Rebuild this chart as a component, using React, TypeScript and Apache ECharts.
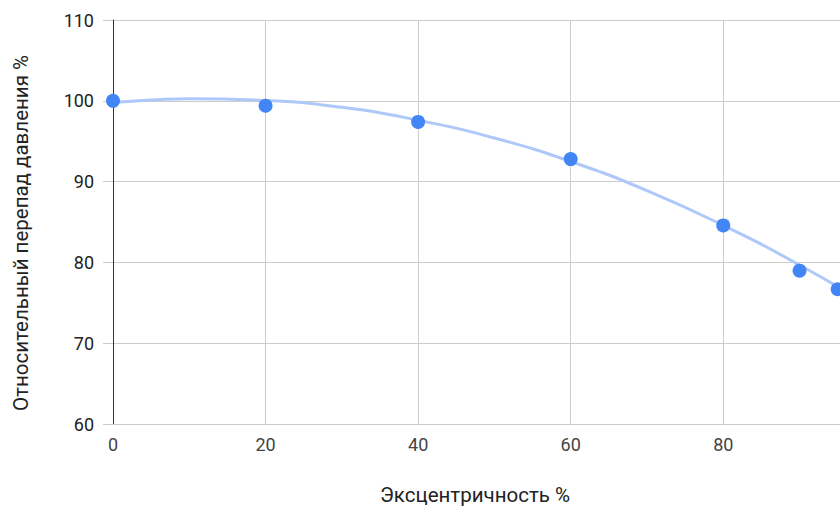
import React, { useEffect, useRef } from "react";
import * as echarts from "echarts";

const xValues = [0, 20, 40, 60, 80, 90, 95];
const yValues = [100, 99.4, 97.4, 92.8, 84.6, 79.0, 76.7];
const trendX = [-1.3, 0, 10, 20, 30, 40, 50, 60, 70, 80, 90, 100];
const trendY = [99.7, 99.8, 100.25, 100.05, 99.2, 97.6, 95.4, 92.5, 88.9, 84.6, 79.7, 74.2];
const xTitle = "Эксцентричность %";
const yTitle = "Относительный перепад давления %";

export default function App() {
  const ref = useRef<HTMLDivElement>(null);
  useEffect(() => {
    if (!ref.current) return;
    const chart = echarts.init(ref.current, null, { renderer: "svg" });
    const font = "Roboto, Arial, sans-serif";
    chart.setOption({
      animation: false,
      backgroundColor: "#ffffff",
      grid: { left: 113, top: 20, right: -35.8, bottom: 81.7, outerBoundsMode: "none", containLabel: false },
      xAxis: {
        type: "value",
        min: 0,
        max: 100,
        interval: 20,
        axisLine: { show: true, lineStyle: { color: "#cccccc", width: 1 } },
        axisTick: { show: false },
        splitLine: { show: true, lineStyle: { color: "#cccccc", width: 1 } },
        axisLabel: { margin: 11, color: "#444444", fontSize: 18, fontFamily: font, showMaxLabel: false },
      },
      yAxis: {
        type: "value",
        min: 60,
        max: 110,
        interval: 10,
        axisLine: { show: true, onZero: false, lineStyle: { color: "#333333", width: 1 } },
        axisTick: { show: true, length: 10, lineStyle: { color: "#cccccc", width: 1 } },
        splitLine: { show: true, lineStyle: { color: "#cccccc", width: 1 } },
        axisLabel: { margin: 19, color: "#222222", fontSize: 18, fontFamily: font },
      },
      graphic: [
        {
          type: "text",
          x: 21,
          y: 233,
          rotation: Math.PI / 2,
          style: {
            text: yTitle,
            fontSize: 20.5,
            fontFamily: font,
            fill: "#222222",
            align: "center",
            verticalAlign: "middle",
          },
        },
        {
          type: "text",
          x: 475,
          y: 495,
          style: {
            text: xTitle,
            fontSize: 20.5,
            fontFamily: font,
            fill: "#222222",
            align: "center",
            verticalAlign: "middle",
          },
        },
      ],
      series: [
        {
          type: "line",
          data: trendX.map((x, i) => [x, trendY[i]]),
          smooth: true,
          showSymbol: false,
          clip: false,
          lineStyle: { color: "#aec9f9", width: 3 },
          z: 1,
        },
        {
          type: "scatter",
          data: xValues.map((x, i) => [x, yValues[i]]),
          symbolSize: 14,
          itemStyle: { color: "#4285f4", opacity: 1 },
          z: 2,
        },
      ],
    });
    return () => chart.dispose();
  }, []);
  return <div ref={ref} style={{ width: 840, height: 506, position: "absolute", left: 0, top: 0 }} />;
}
